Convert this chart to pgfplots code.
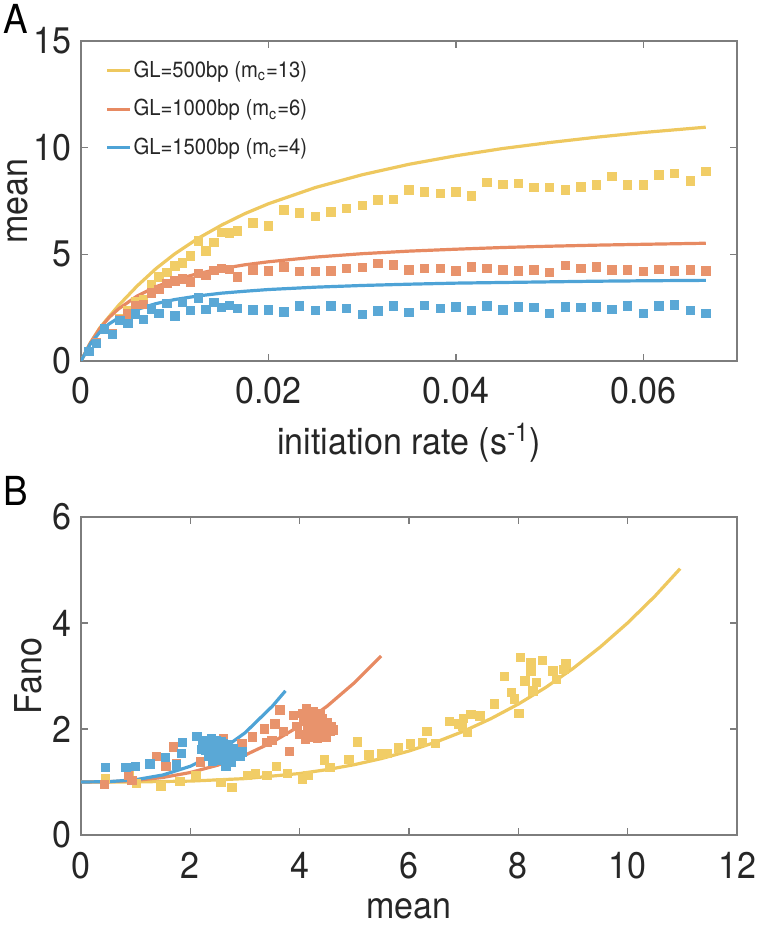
\documentclass[border=0pt]{standalone}
\usepackage{pgfplots}
\pgfplotsset{compat=1.18}
\usepackage{pgfplotstable}
\usepackage{fontspec}
\setmainfont{TeX Gyre Heros}[FakeStretch=0.92]

\definecolor{cY}{RGB}{238,200,95}
\definecolor{cO}{RGB}{231,138,98}
\definecolor{cB}{RGB}{78,163,214}
\definecolor{mY}{RGB}{241,205,102}
\definecolor{mO}{RGB}{232,147,108}
\definecolor{mB}{RGB}{90,168,214}
\definecolor{axgray}{RGB}{125,125,125}
\definecolor{txt}{RGB}{38,38,38}

\pgfplotstableread{
x y500 y1000 y1500
0.000833 0.45 0.45 0.45
0.001667 0.85 0.85 0.83
0.0025 1.5 1.5 1.5
0.003333 1.3 1.3 1.26
0.004167 2.0 1.95 1.9
0.005 2.35 2.2 1.75
0.005833 2.8 2.6 2.2
0.006667 2.9 2.65 1.95
0.0075 3.6 3.2 2.45
0.008333 3.95 3.35 2.22
0.009167 4.15 3.65 2.7
0.01 4.45 3.75 2.11
0.010833 4.6 3.85 2.75
0.011667 4.92 3.7 2.38
0.0125 5.63 4.1 2.95
0.013333 5.16 4.0 2.42
0.014167 5.55 4.25 2.75
0.015 6.02 4.35 2.5
0.015833 6.0 4.3 2.6
0.016667 6.1 3.95 2.47
0.018333 6.48 4.27 2.39
0.02 6.33 4.22 2.39
0.021667 7.08 4.42 2.30
0.023333 6.95 4.19 2.58
0.025 6.77 4.19 2.38
0.026667 6.98 4.22 2.58
0.028333 7.14 4.33 2.47
0.03 7.30 4.38 2.19
0.031667 7.55 4.58 2.34
0.033333 7.58 4.50 2.58
0.035 8.02 4.27 2.27
0.036667 7.92 4.33 2.61
0.038333 7.86 4.33 2.47
0.04 7.92 4.22 2.53
0.041667 7.73 4.42 2.38
0.043333 8.36 4.34 2.58
0.045 8.28 4.27 2.39
0.046667 8.33 4.22 2.53
0.048333 8.13 4.27 2.50
0.05 8.13 4.14 2.23
0.051667 8.02 4.48 2.53
0.053333 8.16 4.34 2.50
0.055 8.25 4.42 2.53
0.056667 8.64 4.27 2.42
0.058333 8.25 4.27 2.58
0.06 8.25 4.19 2.23
0.061667 8.72 4.30 2.58
0.063333 8.80 4.22 2.63
0.065 8.44 4.27 2.38
0.066667 8.88 4.22 2.23
}\dataA

\pgfplotstableread{
x y500 y1000 y1500
0 0 0 0
0.001 0.85 0.85 0.80
0.002 1.55 1.52 1.35
0.003 2.08 2.04 1.74
0.004 2.60 2.44 2.02
0.006 3.52 3.05 2.42
0.008 4.33 3.48 2.69
0.01 5.02 3.80 2.88
0.0125 5.75 4.10 3.05
0.015 6.37 4.33 3.18
0.0175 6.91 4.51 3.27
0.02 7.37 4.65 3.35
0.025 8.13 4.87 3.46
0.03 8.73 5.03 3.54
0.035 9.22 5.15 3.60
0.04 9.62 5.24 3.65
0.045 9.96 5.32 3.68
0.05 10.24 5.38 3.71
0.055 10.49 5.43 3.74
0.06 10.71 5.47 3.76
0.066667 10.96 5.52 3.78
}\curveA

\pgfplotsset{
  mystyle/.style={
    scale only axis,
    width=328pt,
    axis line style={axgray, line width=0.7pt},
    every tick/.style={axgray, line width=0.7pt},
    major tick length=3.5pt,
    tick align=inside,
    scaled ticks=false,
    /pgf/number format/assume math mode=true,
    tick label style={font=\fontsize{18.5}{20}\selectfont, text=txt},
    label style={font=\fontsize{18.5}{20}\selectfont, text=txt},
    yticklabel style={inner sep=0pt, anchor=east, xshift=-4.5pt},
  }
}

\begin{document}
\begin{tikzpicture}
\useasboundingbox (0,0) rectangle (378pt,463.5pt);

\node[font=\fontsize{20}{22}\selectfont, text=black] at (8pt,454pt) {A};
\node[font=\fontsize{20}{22}\selectfont, text=black] at (8pt,218pt) {B};

\begin{axis}[mystyle,
  at={(40.5pt,283pt)}, anchor=south west, height=160pt,
  xmin=0, xmax=0.07, ymin=0, ymax=15,
  xtick={0,0.02,0.04,0.06}, xticklabels={0,0.02,0.04,0.06},
  ytick={0,5,10,15}, yticklabels={0,5,10,15},
  xticklabel style={inner sep=0pt, anchor=north, yshift=-8pt},
  xlabel={initiation rate (s\textsuperscript{-1})},
  ylabel={mean},
  xlabel style={at={(axis description cs:0.5,-0.255)}, anchor=center},
  ylabel style={at={(axis description cs:-0.097,0.5)}, anchor=center},
  legend style={draw=none, fill=none, at={(axis description cs:0.0366,0.945)}, anchor=north west,
    font=\fontsize{11}{12}\selectfont, text=txt, row sep=7.5pt, inner sep=0pt,
    nodes={inner sep=1pt}},
  legend cell align=left,
  legend image code/.code={\draw[#1, line width=1.6pt] (0pt,0pt) -- (11.5pt,0pt);},
]
\addplot[cY, line width=1.6pt, no marks] table[x=x, y=y500] {\curveA};
\addlegendentry{GL=500bp (m\textsubscript{c}=13)}
\addplot[cO, line width=1.6pt, no marks] table[x=x, y=y1000] {\curveA};
\addlegendentry{GL=1000bp (m\textsubscript{c}=6)}
\addplot[cB, line width=1.6pt, no marks] table[x=x, y=y1500] {\curveA};
\addlegendentry{GL=1500bp (m\textsubscript{c}=4)}
\addplot[only marks, mark=square*, mark size=2.1pt, mY, forget plot] table[x=x, y=y500] {\dataA};
\addplot[only marks, mark=square*, mark size=2.1pt, mO, forget plot] table[x=x, y=y1000] {\dataA};
\addplot[only marks, mark=square*, mark size=2.1pt, mB, forget plot] table[x=x, y=y1500] {\dataA};
\end{axis}

\begin{axis}[mystyle,
  at={(40.5pt,46pt)}, anchor=south west, height=159pt,
  xmin=0, xmax=12, ymin=0, ymax=6,
  xtick={0,2,4,6,8,10,12}, xticklabels={0,2,4,6,8,10,12},
  ytick={0,2,4,6}, yticklabels={0,2,4,6},
  xticklabel style={inner sep=0pt, anchor=north, yshift=-8.5pt},
  xlabel={mean}, ylabel={Fano},
  xlabel style={at={(axis description cs:0.5,-0.232)}, anchor=center, inner sep=1pt},
  ylabel style={at={(axis description cs:-0.08,0.5)}, anchor=center},
]
\addplot[cY, line width=1.6pt, no marks] coordinates {
(0,1) (1,1.002) (2,1.017) (3,1.064) (4,1.160) (4.5,1.233) (5,1.327) (5.5,1.443) (6,1.585) (6.5,1.756) (7,1.958) (7.5,2.196) (8,2.470) (8.5,2.784) (9,3.142) (9.5,3.548) (10,4.002) (10.5,4.508) (10.96,5.025)};
\addplot[cO, line width=1.6pt, no marks] coordinates {
(0,1) (0.5,1.005) (1,1.030) (1.5,1.086) (2,1.179) (2.5,1.317) (3,1.506) (3.5,1.751) (4,2.058) (4.5,2.429) (5,2.872) (5.49,3.377)};
\addplot[cB, line width=1.6pt, no marks] coordinates {
(0,1) (0.5,1.006) (1,1.043) (1.5,1.133) (2,1.297) (2.5,1.556) (3,1.927) (3.5,2.43) (3.74,2.72)};

\addplot[only marks, mark=square*, mark size=2.1pt, mY] coordinates {
(0.45,1.07) (0.88,1.12) (1.01,0.97) (1.46,0.93) (1.81,1.01) (2.10,1.12) (2.56,0.99) (2.76,0.90) (3.04,1.13) (3.19,1.16) (3.40,1.13) (3.57,1.29) (3.78,1.16) (4.05,1.06) (4.15,1.12) (4.45,1.42) (4.55,1.28) (4.90,1.43) (5.06,1.76) (5.27,1.51) (5.49,1.53) (5.60,1.54) (5.81,1.64) (6.03,1.72) (6.24,1.75) (6.33,1.95) (6.48,1.73) (6.74,2.14) (6.98,2.06) (7.07,1.94) (7.13,2.28) (7.30,2.25) (7.56,2.47) (7.75,2.99) (7.87,2.69) (7.93,2.57) (8.01,2.30) (8.04,3.35) (8.12,2.91) (8.23,3.26) (8.23,3.10) (8.27,2.72) (8.33,2.88) (8.44,3.29) (8.63,3.10) (8.70,2.94) (8.83,3.13) (8.87,3.23) (7.00,2.20) (6.90,2.10)};
\addplot[only marks, mark=square*, mark size=2.1pt, mO] coordinates {
(0.43,0.96) (0.87,1.12) (0.93,1.03) (1.38,1.48) (1.55,1.30) (1.69,1.66) (1.75,1.34) (2.18,1.38) (2.35,1.70) (2.60,1.82) (2.75,1.60) (2.94,1.73) (3.13,1.85) (3.35,2.00) (3.40,1.75) (3.49,1.79) (3.55,2.10) (3.64,2.36) (3.70,1.95) (3.81,1.58) (3.88,2.26) (3.95,2.05) (4.00,1.90) (4.05,2.30) (4.08,2.15) (4.10,1.80) (4.12,2.38) (4.15,2.00) (4.18,2.22) (4.20,1.85) (4.22,2.10) (4.25,2.32) (4.27,1.95) (4.28,2.15) (4.30,2.05) (4.32,1.82) (4.33,2.25) (4.35,1.98) (4.38,2.12) (4.40,1.90) (4.42,2.20) (4.45,2.02) (4.48,1.85) (4.50,2.12) (4.55,1.96) (4.58,2.05) (4.62,1.98) (4.22,2.00) (4.38,2.30) (4.15,1.92)};
\addplot[only marks, mark=square*, mark size=2.1pt, mB] coordinates {
(0.45,1.28) (0.82,1.28) (1.00,1.29) (1.26,1.34) (1.54,1.46) (1.74,1.32) (1.84,1.54) (1.86,1.75) (2.12,1.86) (2.25,1.79) (2.20,1.62) (2.30,1.70) (2.35,1.55) (2.38,1.82) (2.42,1.73) (2.45,1.62) (2.48,1.50) (2.50,1.68) (2.52,1.58) (2.55,1.42) (2.56,1.76) (2.58,1.65) (2.60,1.55) (2.62,1.45) (2.65,1.29) (2.66,1.54) (2.68,1.70) (2.70,1.60) (2.72,1.48) (2.75,1.38) (2.79,1.63) (2.82,1.52) (2.91,1.49) (2.95,1.57) (2.40,1.40) (2.33,1.48) (2.28,1.60) (2.47,1.78) (2.53,1.52) (2.60,1.72) (2.44,1.66) (2.38,1.58) (2.50,1.45) (2.57,1.60) (2.63,1.62) (2.42,1.52) (2.36,1.65) (2.66,1.46) (2.53,1.70) (2.23,1.72)};
\end{axis}
\end{tikzpicture}
\end{document}
